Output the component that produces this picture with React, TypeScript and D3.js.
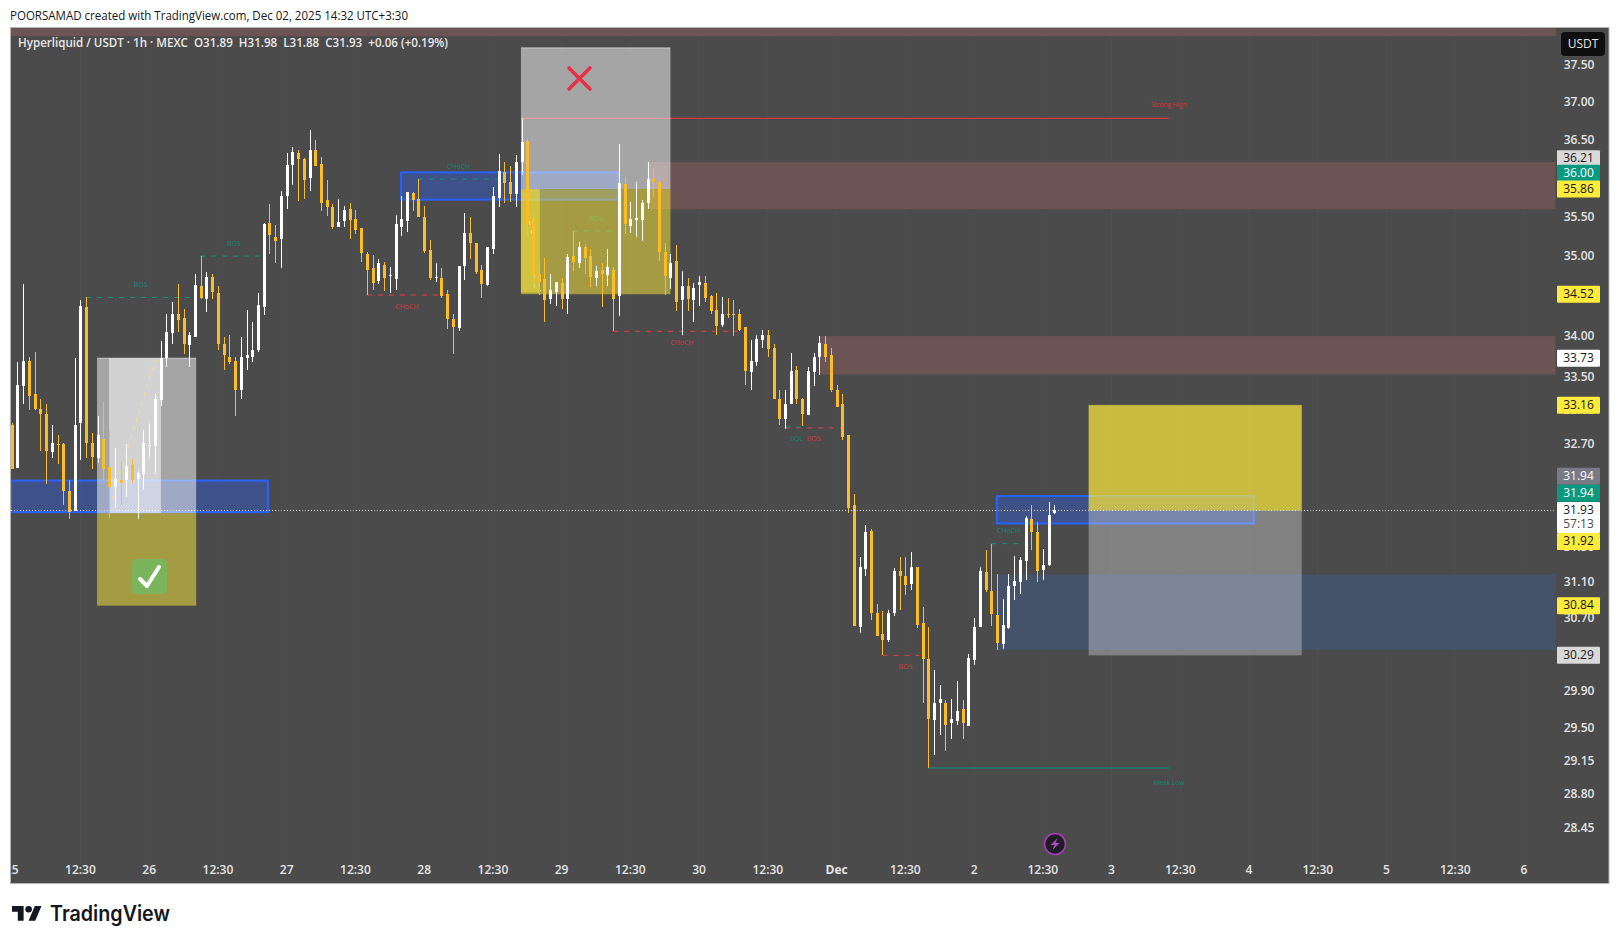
import React from "react";
import * as d3 from "d3";

const opens = [
32.93,32.41,33.39,33.70,33.29,33.12,33.05,32.60,32.70,32.70,
32.15,31.91,32.95,34.36,32.71,32.53,32.76,32.43,32.19,32.28,
32.27,32.45,32.29,32.34,32.68,32.67,33.22,33.73,34.04,34.27,
34.22,33.89,33.99,34.62,34.46,34.73,34.53,33.90,33.74,33.69,
33.34,33.73,33.74,33.83,34.36,35.42,35.24,35.22,35.77,36.17,
36.33,36.25,36.01,36.37,36.19,35.72,35.63,35.37,35.45,35.60,
35.47,35.36,35.03,34.85,34.69,34.89,34.75,34.71,35.37,35.45,
35.81,35.73,35.50,35.08,34.72,34.72,34.52,34.21,34.10,34.87,
35.29,35.16,34.82,34.63,35.09,35.75,36.08,35.95,35.80,36.21,
36.49,35.48,34.78,34.71,34.46,34.55,34.66,34.46,35.00,34.91,
35.11,35.00,34.72,34.82,34.76,34.83,34.50,35.93,35.38,35.46,
35.46,35.68,35.99,35.95,35.05,34.72,34.94,34.45,34.62,34.45,
34.63,34.66,34.50,34.32,34.14,34.28,34.28,34.27,34.11,33.56,
33.68,33.95,34.01,33.85,33.24,32.99,33.18,33.59,33.23,33.04,
33.56,33.74,33.90,33.77,33.35,33.17,32.80,31.98,30.60,31.25,
31.69,30.76,30.52,30.46,30.76,31.23,31.17,31.08,31.27,30.65,
30.25,29.59,29.77,29.77,29.56,29.58,29.71,29.53,30.24,30.60,
31.22,31.00,30.74,30.42,30.59,31.06,31.10,31.34,31.82,31.67,
31.24,31.30,31.89];
const closes = [
32.40,33.41,33.70,33.27,33.12,33.05,32.62,32.71,32.69,32.15,
31.90,32.93,34.37,32.71,32.54,32.80,32.40,32.19,32.29,32.24,
32.44,32.28,32.36,32.71,32.69,33.24,33.73,34.05,34.27,34.20,
33.90,34.02,34.63,34.47,34.73,34.55,33.90,33.77,33.68,33.34,
33.74,33.77,33.83,34.38,35.41,35.27,35.19,35.77,36.17,36.34,
36.25,35.98,36.37,36.16,35.68,35.63,35.37,35.44,35.59,35.46,
35.33,35.04,34.82,34.66,34.91,34.72,34.76,35.41,35.47,35.82,
35.72,35.50,35.07,34.72,34.73,34.50,34.21,34.11,34.88,35.30,
35.17,34.80,34.65,35.11,35.77,36.10,35.94,35.80,36.21,36.47,
35.39,34.76,34.67,34.45,34.57,34.67,34.46,34.99,34.92,35.12,
34.98,34.73,34.81,34.77,34.86,34.46,35.94,35.41,35.47,35.48,
35.68,35.99,35.95,35.05,34.75,34.91,34.42,34.62,34.46,34.60,
34.67,34.47,34.31,34.12,34.27,34.26,34.27,34.08,33.57,33.70,
33.97,34.01,33.84,33.24,33.00,33.18,33.58,33.23,33.05,33.58,
33.74,33.92,33.74,33.34,33.14,32.78,31.95,30.61,31.27,31.67,
30.76,30.50,30.46,30.76,31.23,31.17,31.07,31.28,30.63,30.25,
29.60,29.77,29.82,29.54,29.60,29.69,29.56,30.26,30.60,31.23,
31.01,30.75,30.43,30.62,31.06,31.12,31.35,31.83,31.67,31.23,
31.30,31.87,31.93];
const highs = [
32.95,33.68,34.65,33.74,33.80,33.23,33.17,32.93,32.80,32.71,
32.27,33.73,34.45,34.49,32.83,33.03,33.20,32.85,32.65,32.50,
32.70,32.52,32.39,32.87,32.96,33.30,33.94,34.27,34.42,34.65,
34.34,34.05,34.78,35.00,34.80,34.77,34.62,33.99,34.02,33.74,
33.99,34.32,34.17,34.53,35.42,35.67,35.39,35.84,36.33,36.41,
36.37,36.26,36.63,36.50,36.28,35.98,35.67,35.73,35.64,35.68,
35.59,35.36,35.05,35.01,34.96,34.93,34.86,35.52,35.77,35.82,
35.82,35.99,35.64,35.20,34.91,34.85,34.57,34.27,34.88,35.55,
35.50,35.16,34.89,35.12,35.89,36.32,36.21,36.16,36.30,36.79,
36.51,35.58,34.91,34.97,34.77,34.67,34.72,35.03,35.32,35.18,
35.14,35.09,34.87,34.91,35.09,34.86,36.45,36.02,35.69,35.95,
35.72,36.21,36.13,35.96,35.17,35.03,35.14,34.81,34.72,34.66,
34.75,34.75,34.51,34.53,34.49,34.47,34.45,34.33,34.11,33.95,
34.02,34.07,34.07,33.90,33.35,33.34,33.79,33.64,33.25,33.62,
33.79,34.00,34.00,33.85,33.40,33.29,32.80,32.11,31.39,31.75,
31.71,30.86,30.78,30.79,31.26,31.39,31.39,31.44,31.27,30.83,
30.60,30.13,29.97,29.80,29.82,30.01,29.80,30.30,30.70,31.27,
31.47,31.54,31.19,30.91,31.20,31.40,31.39,31.86,31.98,31.79,
31.48,32.02,31.98];
const lows = [
32.40,32.41,33.18,33.10,33.10,32.62,32.23,32.53,32.46,31.99,
31.82,31.91,32.51,32.53,32.40,32.48,32.27,31.84,31.94,31.99,
32.08,32.24,31.82,32.16,32.53,32.35,33.15,33.62,33.90,34.05,
33.78,33.62,33.99,34.46,34.30,34.46,33.83,33.59,33.66,33.03,
33.23,33.59,33.68,33.80,34.26,35.03,34.91,34.85,35.60,35.91,
35.71,35.73,35.84,36.16,35.57,35.51,35.34,35.37,35.37,35.22,
35.28,34.93,34.51,34.57,34.65,34.56,34.53,34.57,35.26,35.31,
35.57,35.50,35.04,34.70,34.67,34.47,34.09,33.78,34.06,34.70,
34.96,34.78,34.47,34.62,35.03,35.63,35.68,35.69,35.63,36.04,
35.26,34.57,34.51,34.17,34.40,34.37,34.33,34.28,34.81,34.85,
34.77,34.61,34.62,34.36,34.62,34.06,34.25,35.28,35.29,35.24,
35.19,35.60,35.76,34.94,34.51,34.58,34.31,34.02,34.31,34.17,
34.37,34.42,34.28,34.02,34.11,34.23,34.00,34.06,33.40,33.35,
33.63,33.85,33.74,33.23,32.93,32.88,33.18,33.17,32.91,33.04,
33.39,33.53,33.68,33.32,33.14,32.74,31.89,30.61,30.54,31.17,
30.68,30.50,30.29,30.44,30.72,30.79,30.96,31.02,30.59,29.77,
29.08,29.22,29.43,29.26,29.39,29.54,29.39,29.53,30.18,30.60,
30.99,30.61,30.35,30.36,30.58,30.90,30.97,31.13,31.47,31.10,
31.13,31.29,31.88];

const priceTicks = [37.5, 37, 36.5, 35.5, 35, 34, 33.5, 33.1, 32.7, 31.5, 31.1, 30.7, 29.9, 29.5, 29.15, 28.8, 28.45];
const timeLabels = ["25","12:30","26","12:30","27","12:30","28","12:30","29","12:30","30","12:30","Dec","12:30","2","12:30","3","12:30","4","12:30","5","12:30","6"];

// [x0 bar, x1 bar, top price, bottom price]
const supplyZones = [[-0.3, 269.5, 38.05, 37.9], [111, 269.5, 36.21, 35.6], [141, 269.5, 34, 33.53]];
const demandZone = [172.1, 269.5, 31.19, 30.35];
const orderBlocks = [[-0.3, 44.9, 32.28, 31.89], [67.8, 106, 36.09, 35.71], [171.8, 217, 32.1, 31.76]];
const positions = [
  { x0: 14.9, x1: 32.2, top: 33.73, mid: 31.89, bot: 30.84, upper: "rgba(255,255,255,0.5)", lower: "rgba(255,235,59,0.5)", edge: "rgba(255,255,255,0.55)" },
  { x0: 88.9, x1: 115, top: 37.74, mid: 35.86, bot: 34.52, upper: "rgba(255,255,255,0.5)", lower: "rgba(255,235,59,0.5)", edge: "rgba(255,255,255,0.55)" },
  { x0: 188, x1: 225.2, top: 33.16, mid: 31.92, bot: 30.29, upper: "rgba(255,235,59,0.7)", lower: "rgba(255,255,255,0.3)", edge: "rgba(255,235,59,0.3)" },
];
const structure = [
  { t: "BOS", a: 13, b: 32, p: 34.48, lx: 22.5, lp: 34.64, c: "#089981" },
  { t: "BOS", a: 32.9, b: 43.2, p: 35.0, lx: 38.8, lp: 35.15, c: "#089981" },
  { t: "CHoCH", a: 62, b: 76, p: 34.51, lx: 69, lp: 34.36, c: "#f23645" },
  { t: "CHoCH", a: 70.9, b: 84.9, p: 35.99, lx: 78, lp: 36.15, c: "#089981" },
  { t: "BOS", a: 98, b: 105.8, p: 35.32, lx: 102, lp: 35.47, c: "#089981" },
  { t: "CHoCH", a: 105, b: 126.8, p: 34.06, lx: 117, lp: 33.92, c: "#f23645" },
  { t: "BOS", a: 135, b: 145, p: 32.89, lx: 140, lp: 32.76, c: "#f23645" },
  { t: "EQL", a: 135, b: 138, p: 32.9, lx: 137, lp: 32.76, c: "#089981" },
  { t: "BOS", a: 152, b: 158.5, p: 30.29, lx: 156, lp: 30.16, c: "#f23645" },
  { t: "CHoCH", a: 171, b: 177.2, p: 31.54, lx: 174, lp: 31.68, c: "#089981" },
];
const trendLines = [
  { t: "Strong High", a: 88.9, b: 202, p: 36.79, lx: 202, lp: 36.96, c: "#f23645" },
  { t: "Weak Low", a: 160, b: 202, p: 29.08, lx: 202, lp: 28.92, c: "#089981" },
];
const projLong = [[17.5, 32.05], [25, 33.7], [26.4, 33.68]];
const projShort = [[90.1, 35.56], [91, 35.2], [91.2, 34.62], [92.4, 34.56]];
const axisLabels = [
  { t: "36.21", p: 36.21, n: -3.5, bg: "#d9d9d9", fg: "#131722" },
  { t: "36.00", p: 36.0, n: -5, bg: "#089981", fg: "#fff" },
  { t: "35.86", p: 35.86, n: 0, bg: "#ffeb3b", fg: "#131722" },
  { t: "34.52", p: 34.52, n: 0, bg: "#ffeb3b", fg: "#131722" },
  { t: "33.73", p: 33.73, n: 0, bg: "#ffffff", fg: "#131722" },
  { t: "33.16", p: 33.16, n: 0, bg: "#ffeb3b", fg: "#131722" },
  { t: "31.94", p: 31.94, n: -32.5, bg: "#787b86", fg: "#fff" },
  { t: "31.94", p: 31.94, n: -15.5, bg: "#089981", fg: "#fff" },
  { t: "31.92", p: 31.92, n: 31, bg: "#ffeb3b", fg: "#131722" },
  { t: "30.84", p: 30.84, n: 0, bg: "#ffeb3b", fg: "#131722" },
  { t: "30.29", p: 30.29, n: 0, bg: "#d9d9d9", fg: "#131722" },
];
const lastPrice = 31.93;
const countdown = "57:13";

const UI = "'Open Sans', Roboto, sans-serif";
const x = d3.scaleLinear().domain([0, 264]).range([11.7, 1524]);
const y = d3.scaleLog().domain([37.5, 28.45]).range([65.5, 828.5]);
const projLine = d3.line<number[]>().x((d) => x(d[0])).y((d) => y(d[1]));
const BG = "#4b4b4b";
const UP = "#ffffff";
const DOWN = "#fbbd26";

export default function App() {
  const W = 1620, H = 944;
  return (
    <svg width={W} height={H} viewBox={`0 0 ${W} ${H}`} style={{ position: "fixed", left: 0, top: 0, background: "#fff" }} fontFamily={UI}>
      <defs>
        <clipPath id="pane"><rect x={11} y={28} width={1546} height={854} /></clipPath>
      </defs>
      <text x={10} y={20} fontSize={12.5} fill="#131722" textLength={398} lengthAdjust="spacingAndGlyphs">POORSAMAD created with TradingView.com, Dec 02, 2025 14:32 UTC+3:30</text>
      <rect x={10.5} y={27.5} width={1598.5} height={856} fill={BG} stroke="#b4b4b4" strokeWidth={1} />

      <g clipPath="url(#pane)">
        {timeLabels.map((_, i) => <line key={i} x1={x(i * 12)} x2={x(i * 12)} y1={28} y2={882} stroke="#4f4f4f" />)}
        {supplyZones.map((z, i) => <rect key={i} x={x(z[0])} y={y(z[2])} width={x(z[1]) - x(z[0])} height={y(z[3]) - y(z[2])} fill="#6d5454" />)}
        <rect x={x(demandZone[0])} y={y(demandZone[2])} width={x(demandZone[1]) - x(demandZone[0])} height={y(demandZone[3]) - y(demandZone[2])} fill="#455269" />

        {trendLines.map((l, i) => <line key={i} x1={x(l.a)} x2={x(l.b)} y1={y(l.p)} y2={y(l.p)} stroke={l.c} strokeWidth={1} />)}
        {orderBlocks.map((z, i) => <rect key={i} x={x(z[0]) + 1} y={y(z[2]) + 1} width={x(z[1]) - x(z[0]) - 2} height={y(z[3]) - y(z[2]) - 2} fill="rgba(41,98,255,0.35)" stroke="#2962ff" strokeWidth={2} />)}

        {structure.map((s, i) => (
          <g key={i}>
            <line x1={x(s.a)} x2={x(s.b)} y1={y(s.p)} y2={y(s.p)} stroke={s.c} strokeWidth={1} strokeDasharray="5 6" />
            <text x={x(s.lx)} y={y(s.lp)} fontSize={7} textAnchor="middle" dominantBaseline="middle" fill={s.c} opacity={0.75}>{s.t}</text>
          </g>
        ))}
        {trendLines.map((l, i) => <text key={i} x={x(l.lx)} y={y(l.lp)} fontSize={6.5} textAnchor="middle" dominantBaseline="middle" fill={l.c} opacity={0.75}>{l.t}</text>)}

        {positions.map((p, i) => (
          <g key={i}>
            <rect x={x(p.x0)} y={y(p.top)} width={x(p.x1) - x(p.x0)} height={y(p.mid) - y(p.top)} fill={p.upper} />
            <rect x={x(p.x0)} y={y(p.mid)} width={x(p.x1) - x(p.x0)} height={y(p.bot) - y(p.mid)} fill={p.lower} />
            <line x1={x(p.x0)} x2={x(p.x1)} y1={y(p.top)} y2={y(p.top)} stroke={p.edge} strokeWidth={1} />
          </g>
        ))}
        <rect x={x(17)} y={y(33.73)} width={x(26.05) - x(17)} height={y(31.89) - y(33.73)} fill="rgba(255,255,255,0.5)" />
        <rect x={x(88.9)} y={y(35.86)} width={x(92.2) - x(88.9)} height={y(34.54) - y(35.86)} fill="rgba(255,235,59,0.5)" />
        <path d={projLine(projLong) as string} fill="none" stroke="#efe28a" strokeWidth={1} strokeDasharray="4 5" />
        <path d={projLine(projShort) as string} fill="none" stroke="#efe28a" strokeWidth={1} strokeDasharray="4 5" />

        {opens.map((o, i) => {
          const c = closes[i];
          const col = c >= o ? UP : DOWN;
          const cx = Math.round(x(i));
          const top = Math.round(y(Math.max(o, c)));
          const bot = Math.round(y(Math.min(o, c)));
          return (
            <g key={i} fill={col}>
              <rect x={cx} y={Math.round(y(highs[i]))} width={1} height={Math.max(1, Math.round(y(lows[i])) - Math.round(y(highs[i])))} />
              <rect x={cx - 1} y={top} width={3} height={Math.max(1, bot - top)} />
            </g>
          );
        })}

        <line x1={11} x2={1556} y1={Math.round(y(lastPrice)) + 0.5} y2={Math.round(y(lastPrice)) + 0.5} stroke="#fff" strokeWidth={1} strokeDasharray="1 2" />

        <g stroke="#e8304a" strokeWidth={3.6} strokeLinecap="round">
          <line x1={569} y1={68} x2={590} y2={89} />
          <line x1={590} y1={68} x2={569} y2={89} />
        </g>
        <rect x={132} y={559} width={35} height={35} rx={4} fill="#7ab55c" />
        <path d="M140 579 L147 586 L159 567" fill="none" stroke="#fff" strokeWidth={4} strokeLinecap="round" strokeLinejoin="round" />
        <circle cx={1055} cy={844} r={10.5} fill="#1e1e22" stroke="#a83bbd" strokeWidth={1.6} />
        <path d="M1057.5 838 L1050.5 845 L1054.5 845 L1052.5 850 L1059.5 843 L1055.5 843 Z" fill="#b046c8" />

        {timeLabels.map((t, i) => (
          <text key={i} x={x(i * 12)} y={871} fontSize={12} fontWeight={t === "Dec" ? 700 : 600} textAnchor="middle" dominantBaseline="middle" fill="#e4e4e4">{t}</text>
        ))}
      </g>

      <rect x={11} y={28} width={1545} height={8} fill="#6d5454" />
      <text x={18} y={47} fontSize={12.5} fontWeight={600} fill="#e8e8e8" textLength={430} lengthAdjust="spacingAndGlyphs" xmlSpace="preserve">Hyperliquid / USDT · 1h · MEXC  O31.89  H31.98  L31.88  C31.93  +0.06 (+0.19%)</text>

      <rect x={1561} y={32} width={44} height={24} rx={4} fill="#0f0f0f" />
      <text x={1583} y={44.5} fontSize={12} textAnchor="middle" dominantBaseline="middle" fill="#e4e4e4">USDT</text>
      {priceTicks.map((p) => (
        <text key={p} x={1579} y={y(p) + 0.5} fontSize={12} fontWeight={600} textAnchor="middle" dominantBaseline="middle" fill="#e4e4e4">{d3.format(".2f")(p)}</text>
      ))}
      {axisLabels.map((l, i) => (
        <g key={i}>
          <rect x={1557} y={y(l.p) + l.n - 8.5} width={43} height={17} fill={l.bg} rx={1} />
          <text x={1578.5} y={y(l.p) + l.n + 0.5} fontSize={12} textAnchor="middle" dominantBaseline="middle" fill={l.fg}>{l.t}</text>
        </g>
      ))}
      <rect x={1557} y={502} width={43} height={31} fill="#fff" rx={1} />
      <text x={1578.5} y={510.5} fontSize={12} textAnchor="middle" dominantBaseline="middle" fill="#131722">{lastPrice.toFixed(2)}</text>
      <text x={1578.5} y={525} fontSize={12} textAnchor="middle" dominantBaseline="middle" fill="#4a4a4a">{countdown}</text>

      <g transform="translate(12 902.6) scale(0.83)" fill="#131722">
        <path d="M14 22H7V11H0V4h14v18zM28 22h-8l7.5-18h8L28 22z" />
        <circle cx={20} cy={8} r={4} />
      </g>
      <text x={50} y={921} fontFamily="Inter, sans-serif" fontSize={21} fontWeight={600} fill="#131722" textLength={120} lengthAdjust="spacingAndGlyphs">TradingView</text>
    </svg>
  );
}
